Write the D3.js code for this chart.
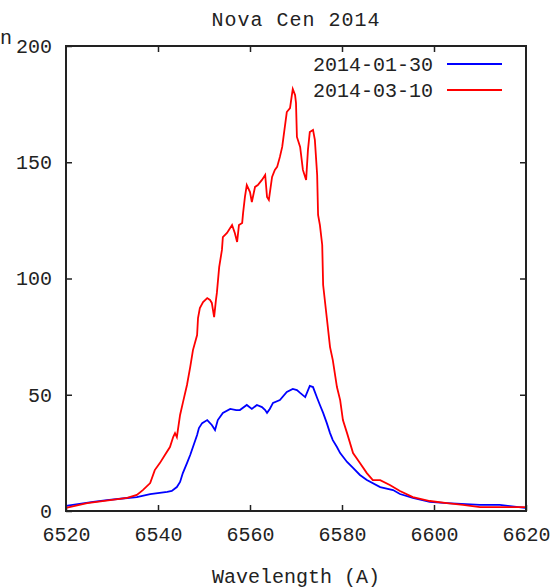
<!DOCTYPE html>
<html>
<head>
<meta charset="utf-8">
<script src="https://cdn.jsdelivr.net/npm/d3@7"></script>
<style>
  body { margin: 0; background: #fff; }
  text { font-family: "Liberation Mono", "DejaVu Sans Mono", monospace; fill: #222; }
</style>
</head>
<body>
<script>
const title = 'Nova Cen 2014'
const xLabel = 'Wavelength (A)'
const seriesNames = ['2014-01-30', '2014-03-10']
const seriesColors = ['#0000ff', '#ff0000']
const xTicks = [6520, 6540, 6560, 6580, 6600, 6620]
const yTicks = [0, 50, 100, 150, 200]

// 2014-01-30
const blueWave = [6520.0, 6525.9, 6528.9, 6533.3, 6535.4, 6538.3, 6542.0, 6543.0, 6544.1, 6544.8,
  6545.4, 6546.3, 6547.0, 6547.6, 6548.5, 6548.9, 6549.6, 6550.7, 6551.7, 6552.4,
  6553.0, 6554.1, 6555.7, 6557.0, 6557.8, 6559.3, 6560.4, 6561.5, 6562.6, 6563.3,
  6563.7, 6564.3, 6565.0, 6566.5, 6568.0, 6569.3, 6570.2, 6570.9, 6572.0, 6573.0,
  6573.7, 6574.6, 6575.2, 6575.9, 6576.7, 6577.4, 6578.0, 6578.9, 6579.6, 6581.1,
  6582.4, 6583.9, 6585.4, 6588.3, 6591.1, 6592.6, 6595.4, 6599.1, 6602.8, 6610.0,
  6614.3, 6619.8]
const blueFlux = [2.2, 3.9, 4.7, 5.6, 6.0, 7.3, 8.2, 8.6, 10.3, 12.5,
  16.3, 20.6, 24.1, 27.5, 32.7, 35.7, 37.8, 39.1, 37.0, 34.8,
  39.1, 42.2, 43.9, 43.4, 43.4, 45.6, 43.9, 45.6, 44.7, 43.4,
  42.2, 43.9, 46.5, 47.7, 51.2, 52.5, 52.0, 50.8, 49.0, 53.8,
  53.3, 48.6, 45.6, 42.2, 37.8, 33.5, 30.5, 27.5, 24.9, 21.1,
  18.5, 15.5, 13.3, 10.3, 9.0, 7.3, 5.6, 3.9, 3.4, 2.6,
  2.6, 1.3]

// 2014-03-10
const redWave = [6520.0, 6524.6, 6529.6, 6533.3, 6535.4, 6536.7, 6538.3, 6539.3, 6540.4, 6541.5,
  6542.6, 6543.3, 6543.7, 6544.1, 6544.8, 6545.4, 6546.3, 6547.0, 6547.6, 6548.5,
  6548.7, 6549.1, 6549.8, 6550.7, 6551.3, 6551.7, 6552.2, 6552.6, 6552.8, 6553.3,
  6553.9, 6554.1, 6555.0, 6556.1, 6556.7, 6557.2, 6557.6, 6558.3, 6558.5, 6558.9,
  6559.3, 6560.0, 6560.4, 6561.1, 6561.7, 6562.6, 6563.3, 6563.7, 6564.1, 6564.8,
  6565.4, 6565.9, 6566.5, 6567.0, 6567.4, 6568.0, 6568.7, 6569.1, 6569.3, 6569.8,
  6570.0, 6570.2, 6570.9, 6571.5, 6572.2, 6572.6, 6573.0, 6573.7, 6574.1, 6574.6,
  6574.8, 6575.2, 6575.7, 6575.9, 6576.7, 6577.4, 6578.0, 6578.9, 6579.6, 6580.2,
  6581.1, 6582.4, 6583.9, 6585.4, 6586.7, 6588.3, 6590.4, 6592.6, 6595.4, 6599.1,
  6602.8, 6606.3, 6610.0, 6614.3, 6619.8]
const redFlux = [1.3, 3.4, 4.7, 5.6, 6.9, 9.0, 12.0, 17.6, 20.6, 24.1,
  27.5, 31.8, 33.5, 31.8, 41.3, 46.5, 54.2, 61.9, 69.2, 75.7,
  83.0, 87.3, 89.9, 91.6, 90.8, 89.5, 83.4, 90.8, 93.8, 104.9,
  112.3, 117.8, 119.6, 123.0, 119.6, 115.7, 123.0, 123.9, 128.2, 135.1,
  140.2, 137.2, 132.9, 139.4, 140.2, 142.4, 144.5, 135.1, 133.8, 143.7,
  146.7, 148.0, 152.3, 156.6, 162.6, 171.6, 173.3, 178.9, 181.5, 178.9,
  175.5, 160.9, 156.6, 146.7, 142.4, 155.3, 163.0, 163.9, 159.6, 144.5,
  127.3, 123.0, 114.4, 97.2, 83.0, 70.5, 64.9, 53.3, 47.7, 39.1,
  33.5, 24.9, 20.6, 16.3, 13.3, 13.3, 11.2, 8.6, 6.0, 4.3,
  3.4, 2.6, 1.7, 1.7, 1.7]

const margin = {top: 46, right: 29, bottom: 77, left: 66}
const W = 555, H = 588
const width = W - margin.left - margin.right
const height = H - margin.top - margin.bottom

const svg = d3.select('body').append('svg')
  .attr('width', W)
  .attr('height', H)

const g = svg.append('g')
  .attr('transform', `translate(${margin.left},${margin.top})`)

const x = d3.scaleLinear().domain([6520, 6620]).range([0, width])
const y = d3.scaleLinear().domain([0, 200]).range([height, 0])

// ticks on all four sides, pointing in
const tickLen = 6
g.append('g')
  .attr('transform', `translate(0,${height})`)
  .call(d3.axisBottom(x).tickValues(xTicks).tickSize(-tickLen).tickPadding(16).tickFormat(d3.format('d')))
g.append('g')
  .call(d3.axisTop(x).tickValues(xTicks.slice(1, -1)).tickSize(-tickLen).tickFormat(''))
g.append('g')
  .call(d3.axisLeft(y).tickValues(yTicks).tickSize(-tickLen).tickPadding(14))
g.append('g')
  .attr('transform', `translate(${width},0)`)
  .call(d3.axisRight(y).tickValues(yTicks.slice(1, -1)).tickSize(-tickLen).tickFormat(''))

g.selectAll('.domain').remove()
g.selectAll('.tick line').attr('stroke', '#222').attr('stroke-width', 1.5)
g.selectAll('.tick text').attr('font-size', 20).attr('fill', '#222')
  .style('font-family', '"Liberation Mono", monospace')

const series = [
  {name: seriesNames[0], color: seriesColors[0], pts: blueWave.map((w, i) => [w, blueFlux[i]])},
  {name: seriesNames[1], color: seriesColors[1], pts: redWave.map((w, i) => [w, redFlux[i]])}
]

const line = d3.line().x((d) => x(d[0])).y((d) => y(d[1]))

g.selectAll('path.series')
  .data(series)
  .join('path')
  .attr('class', 'series')
  .attr('d', (d) => line(d.pts))
  .attr('fill', 'none')
  .attr('stroke', (d) => d.color)
  .attr('stroke-width', 1.8)

// frame
g.append('rect')
  .attr('width', width).attr('height', height)
  .attr('fill', 'none').attr('stroke', '#222').attr('stroke-width', 2)

// legend
const legend = g.selectAll('g.legend')
  .data(series)
  .join('g')
  .attr('class', 'legend')
  .attr('transform', (d, i) => `translate(0,${18 + i * 26})`)
legend.append('text')
  .attr('x', 367).attr('y', 7)
  .attr('text-anchor', 'end')
  .attr('font-size', 20)
  .text((d) => d.name)
legend.append('line')
  .attr('x1', 381).attr('x2', 436)
  .attr('stroke', (d) => d.color).attr('stroke-width', 2)

// titles
svg.append('text')
  .attr('x', margin.left + width / 2).attr('y', 26)
  .attr('text-anchor', 'middle').attr('font-size', 20)
  .attr('letter-spacing', 1)
  .text(title)
svg.append('text')
  .attr('x', margin.left + width / 2).attr('y', 583)
  .attr('text-anchor', 'middle').attr('font-size', 20)
  .text(xLabel)
// tail of the cut-off y label
svg.append('text')
  .attr('x', 0).attr('y', 44)
  .attr('font-size', 20)
  .text('n')
</script>
</body>
</html>
